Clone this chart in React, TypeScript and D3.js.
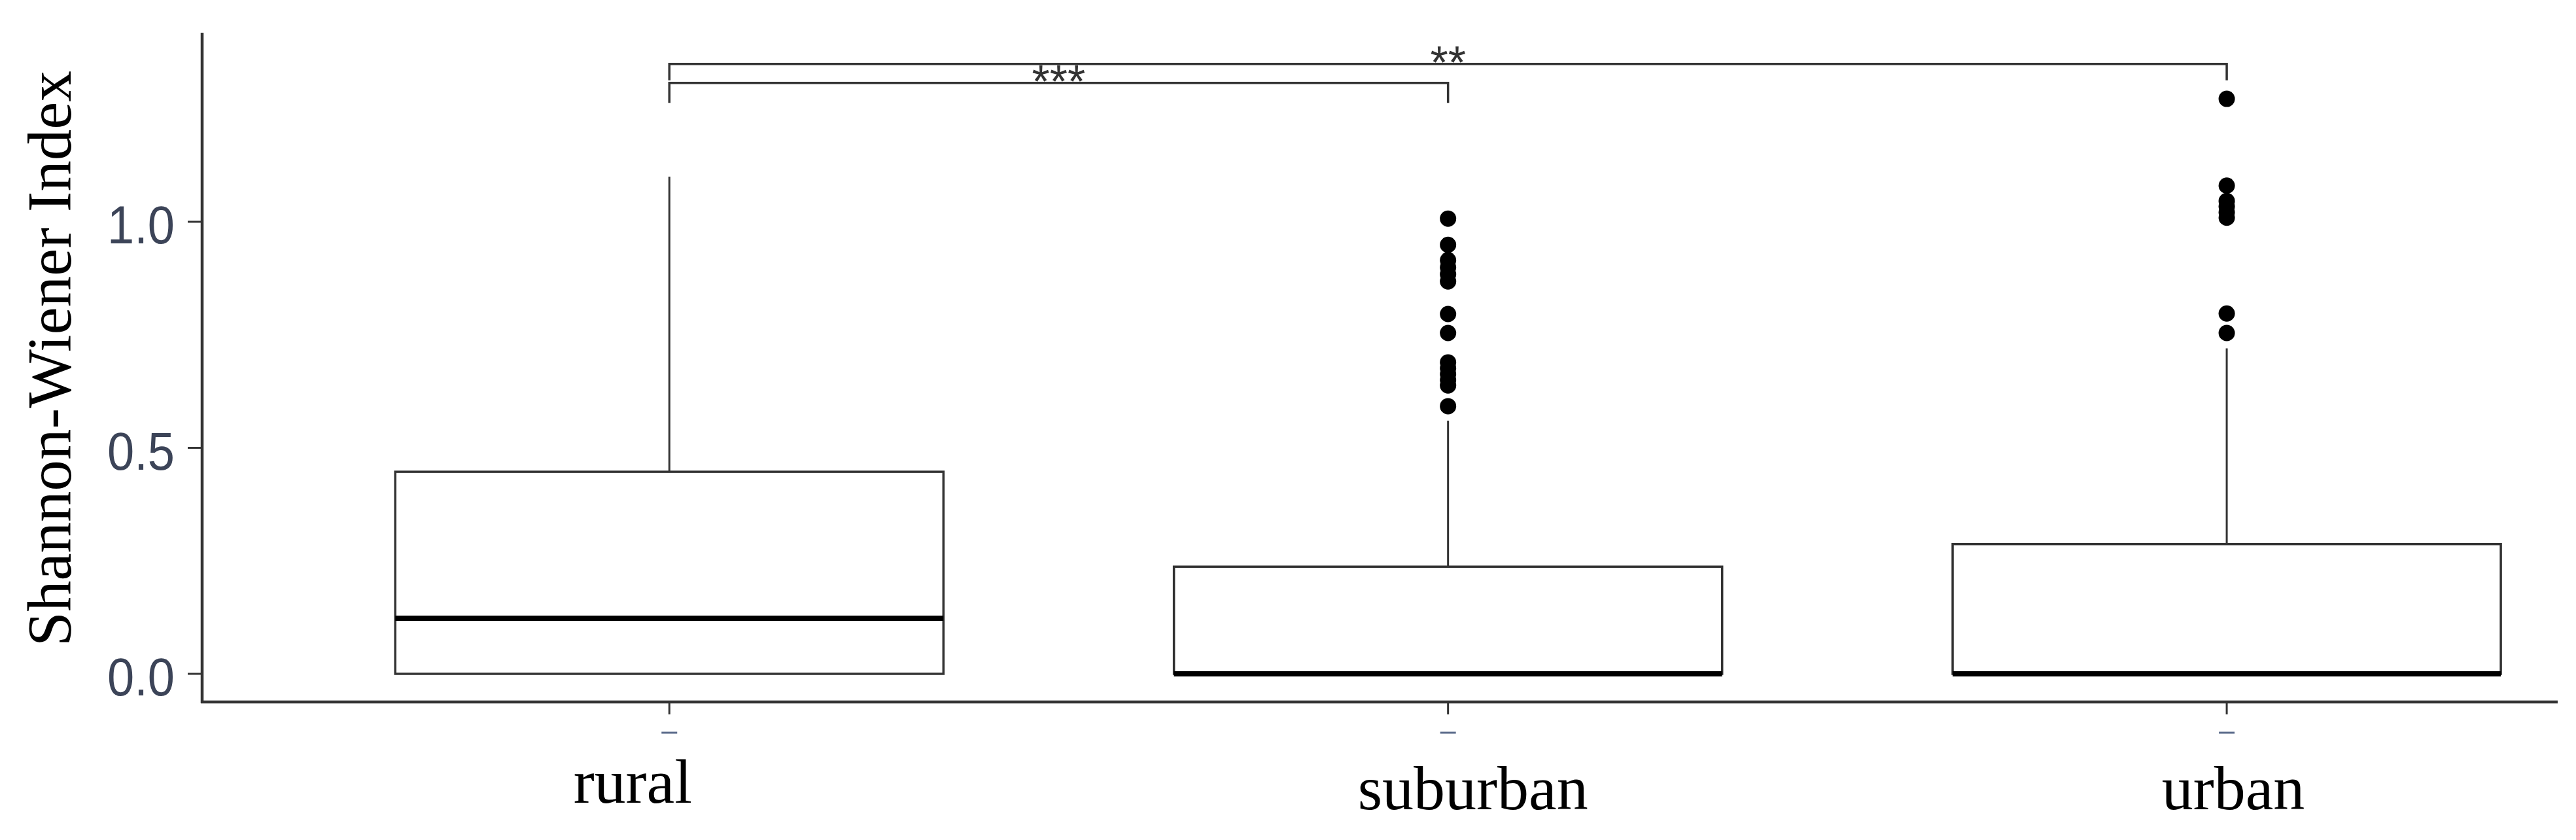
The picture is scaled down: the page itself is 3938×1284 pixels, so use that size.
import React from "react";
import * as d3 from "d3";

// ---- data ----
const categories = ["rural", "suburban", "urban"];
const q1Values = [0, 0, 0];
const medianValues = [0.123, 0, 0];
const q3Values = [0.447, 0.237, 0.287];
const whiskerLowValues = [0, 0, 0];
const whiskerHighValues = [1.1, 0.56, 0.72];
const outliersRural: number[] = [];
const outliersSuburban = [1.007, 0.949, 0.915, 0.899, 0.884, 0.868, 0.796, 0.754, 0.689, 0.676, 0.663, 0.65, 0.638, 0.592];
const outliersUrban = [1.272, 1.08, 1.046, 1.034, 1.021, 1.009, 0.797, 0.754];
const yTickValues = [0, 0.5, 1.0];
const yTickLabels = ["0.0", "0.5", "1.0"];
const comparisonFrom = ["rural", "rural"];
const comparisonTo = ["suburban", "urban"];
const comparisonY = [1.307, 1.349];
const comparisonTip = [0.044, 0.036];
const comparisonLabels = ["***", "**"];
const yTitle = "Shannon-Wiener Index";

// ---- layout ----
const W = 3938;
const H = 1284;
const axisLeft = 309;
const axisRight = 3910;
const axisTop = 50;
const axisBottom = 1073;
const boxWidth = 0.704;
const labelNudgeX = [-56, 38, 10];
const labelBaseline = [1227, 1237, 1237];

export default function App() {
  const outliers = [outliersRural, outliersSuburban, outliersUrban];
  const x = d3.scaleLinear().domain([0.4, 3.425]).range([axisLeft, axisRight]);
  const y = d3.scaleLinear().domain([0, 1]).range([1030, 339]);
  const xc = (c: string) => x(categories.indexOf(c) + 1);
  const ink = "#333333";

  return (
    <svg
      width={W}
      height={H}
      viewBox={`0 0 ${W} ${H}`}
      style={{ position: "absolute", left: 0, top: 0, background: "#ffffff" }}
    >
      <rect x={0} y={0} width={W} height={H} fill="#ffffff" />

      {/* boxes */}
      {categories.map((c, i) => {
        const cx = x(i + 1);
        const half = (x(boxWidth) - x(0)) / 2;
        return (
          <g key={c}>
            <line x1={cx} x2={cx} y1={y(q3Values[i])} y2={y(whiskerHighValues[i])} stroke={ink} strokeWidth={3} />
            <line x1={cx} x2={cx} y1={y(q1Values[i])} y2={y(whiskerLowValues[i])} stroke={ink} strokeWidth={3} />
            <rect
              x={cx - half}
              y={y(q3Values[i])}
              width={2 * half}
              height={y(q1Values[i]) - y(q3Values[i])}
              fill="#ffffff"
              stroke={ink}
              strokeWidth={3.5}
            />
            <line x1={cx - half} x2={cx + half} y1={y(medianValues[i])} y2={y(medianValues[i])} stroke="#000" strokeWidth={8} />
            {outliers[i].map((v, k) => (
              <circle key={k} cx={cx} cy={y(v)} r={12.5} fill="#000" />
            ))}
          </g>
        );
      })}

      {/* significance brackets */}
      {comparisonLabels.map((lab, k) => {
        const x1 = xc(comparisonFrom[k]);
        const x2 = xc(comparisonTo[k]);
        const yl = y(comparisonY[k]);
        const yt = y(comparisonY[k] - comparisonTip[k]);
        return (
          <g key={k}>
            <path
              d={`M${x1},${yt}L${x1},${yl}L${x2},${yl}L${x2},${yt}`}
              fill="none"
              stroke={ink}
              strokeWidth={3.5}
            />
            <text
              x={(x1 + x2) / 2}
              y={yl + 22}
              textAnchor="middle"
              fontFamily="Liberation Sans, Arial, sans-serif"
              fontSize={70}
              fill={ink}
            >
              {lab}
            </text>
          </g>
        );
      })}

      {/* axes */}
      <line x1={axisLeft} x2={axisLeft} y1={axisTop} y2={axisBottom + 2} stroke={ink} strokeWidth={4.5} />
      <line x1={axisLeft - 2} x2={axisRight} y1={axisBottom} y2={axisBottom} stroke={ink} strokeWidth={4.5} />

      {yTickValues.map((v, k) => (
        <g key={k}>
          <line x1={287} x2={axisLeft} y1={y(v)} y2={y(v)} stroke={ink} strokeWidth={3} />
          <text
            x={267}
            y={y(v) + 33}
            textAnchor="end"
            fontFamily="Liberation Sans, Arial, sans-serif"
            fontSize={82}
            textLength={103}
            lengthAdjust="spacingAndGlyphs"
            fill="#3c4458"
          >
            {yTickLabels[k]}
          </text>
        </g>
      ))}

      {categories.map((c, i) => (
        <g key={c}>
          <line x1={x(i + 1)} x2={x(i + 1)} y1={axisBottom} y2={1092} stroke={ink} strokeWidth={3} />
          <line x1={x(i + 1) - 12} x2={x(i + 1) + 12} y1={1120} y2={1120} stroke="#5a6a8a" strokeWidth={3} />
          <text
            x={x(i + 1) + labelNudgeX[i]}
            y={labelBaseline[i]}
            textAnchor="middle"
            fontFamily="Liberation Serif, Times New Roman, serif"
            fontSize={96}
            fill="#000"
          >
            {c}
          </text>
        </g>
      ))}

      <text
        transform={`translate(108,548) rotate(-90)`}
        textAnchor="middle"
        fontFamily="Liberation Serif, Times New Roman, serif"
        fontSize={95}
        fill="#000"
      >
        {yTitle}
      </text>
    </svg>
  );
}
